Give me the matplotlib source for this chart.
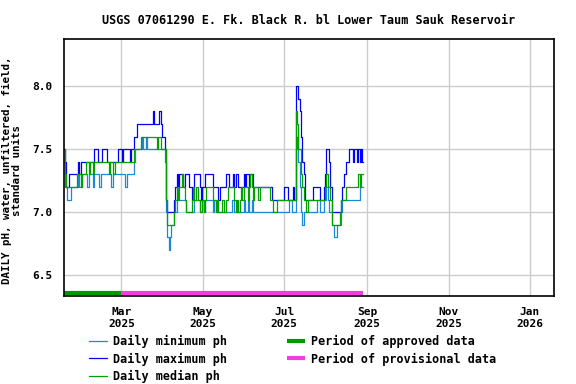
import numpy as np
import pandas as pd
import matplotlib
matplotlib.use('Agg')
import matplotlib.pyplot as plt
import matplotlib.dates as mdates

# daily pH values, starting 2025-01-17
start_date = '2025-01-17'

ph_max = [
    7.5, 7.4, 7.2, 7.2, 7.3, 7.3, 7.3, 7.3, 7.3, 7.3,
    7.3, 7.4, 7.3, 7.4, 7.4, 7.4, 7.4, 7.4, 7.4, 7.4,
    7.4, 7.4, 7.4, 7.5, 7.5, 7.5, 7.4, 7.4, 7.4, 7.5,
    7.5, 7.5, 7.5, 7.4, 7.4, 7.4, 7.4, 7.4, 7.4, 7.4,
    7.4, 7.5, 7.5, 7.5, 7.4, 7.5, 7.5, 7.5, 7.5, 7.5,
    7.4, 7.5, 7.5, 7.6, 7.6, 7.7, 7.7, 7.7, 7.7, 7.7,
    7.7, 7.7, 7.7, 7.7, 7.7, 7.7, 7.7, 7.8, 7.7, 7.7,
    7.7, 7.7, 7.8, 7.7, 7.6, 7.6, 7.5, 7.1, 7.0, 7.0,
    7.0, 7.0, 7.0, 7.1, 7.2, 7.3, 7.2, 7.3, 7.3, 7.3,
    7.2, 7.3, 7.3, 7.3, 7.2, 7.2, 7.1, 7.2, 7.3, 7.3,
    7.3, 7.3, 7.2, 7.1, 7.2, 7.2, 7.3, 7.3, 7.3, 7.3,
    7.3, 7.3, 7.2, 7.2, 7.2, 7.2, 7.1, 7.2, 7.2, 7.2,
    7.2, 7.2, 7.3, 7.3, 7.2, 7.2, 7.2, 7.3, 7.2, 7.3,
    7.3, 7.2, 7.2, 7.2, 7.2, 7.3, 7.2, 7.3, 7.3, 7.2,
    7.3, 7.3, 7.2, 7.2, 7.2, 7.2, 7.2, 7.2, 7.2, 7.2,
    7.2, 7.2, 7.2, 7.2, 7.2, 7.2, 7.1, 7.1, 7.1, 7.1,
    7.1, 7.1, 7.1, 7.1, 7.1, 7.2, 7.2, 7.2, 7.1, 7.1,
    7.1, 7.1, 7.2, 7.1, 8.0, 8.0, 7.9, 7.8, 7.6, 7.4,
    7.3, 7.1, 7.1, 7.1, 7.1, 7.1, 7.1, 7.2, 7.2, 7.2,
    7.2, 7.2, 7.1, 7.1, 7.1, 7.2, 7.3, 7.5, 7.5, 7.4,
    7.2, 7.0, 7.0, 7.0, 7.0, 7.0, 7.0, 7.0, 7.1, 7.2,
    7.3, 7.3, 7.4, 7.4, 7.5, 7.5, 7.5, 7.4, 7.5, 7.5,
    7.4, 7.5, 7.4, 7.5, 7.4,
]

ph_median = [
    7.5, 7.3, 7.2, 7.2, 7.2, 7.2, 7.2, 7.2, 7.2, 7.2,
    7.3, 7.3, 7.3, 7.2, 7.3, 7.3, 7.3, 7.4, 7.4, 7.3,
    7.4, 7.4, 7.3, 7.4, 7.4, 7.4, 7.4, 7.4, 7.4, 7.4,
    7.4, 7.4, 7.4, 7.4, 7.3, 7.4, 7.4, 7.3, 7.3, 7.4,
    7.4, 7.4, 7.4, 7.4, 7.4, 7.4, 7.4, 7.4, 7.4, 7.4,
    7.4, 7.4, 7.4, 7.5, 7.5, 7.5, 7.5, 7.5, 7.6, 7.6,
    7.6, 7.6, 7.6, 7.6, 7.6, 7.6, 7.6, 7.6, 7.6, 7.6,
    7.5, 7.6, 7.6, 7.5, 7.5, 7.5, 7.5, 7.1, 6.9, 6.9,
    6.9, 6.9, 6.9, 7.0, 7.1, 7.2, 7.1, 7.2, 7.2, 7.3,
    7.2, 7.1, 7.0, 7.0, 7.0, 7.0, 7.1, 7.2, 7.1, 7.2,
    7.2, 7.1, 7.0, 7.0, 7.1, 7.0, 7.1, 7.2, 7.2, 7.2,
    7.2, 7.2, 7.1, 7.1, 7.0, 7.1, 7.0, 7.0, 7.0, 7.1,
    7.0, 7.0, 7.1, 7.2, 7.2, 7.2, 7.2, 7.2, 7.1, 7.0,
    7.1, 7.0, 7.1, 7.2, 7.1, 7.2, 7.2, 7.2, 7.1, 7.2,
    7.3, 7.2, 7.1, 7.2, 7.2, 7.2, 7.1, 7.2, 7.2, 7.2,
    7.2, 7.2, 7.2, 7.2, 7.2, 7.1, 7.1, 7.0, 7.0, 7.0,
    7.1, 7.1, 7.1, 7.1, 7.1, 7.1, 7.1, 7.1, 7.1, 7.1,
    7.1, 7.1, 7.1, 7.1, 7.8, 7.7, 7.5, 7.5, 7.3, 7.2,
    7.1, 7.1, 7.0, 7.1, 7.1, 7.1, 7.1, 7.1, 7.1, 7.1,
    7.1, 7.1, 7.1, 7.1, 7.1, 7.1, 7.2, 7.3, 7.2, 7.2,
    7.1, 6.9, 6.9, 6.9, 6.9, 6.9, 6.9, 7.0, 7.1, 7.1,
    7.1, 7.1, 7.2, 7.2, 7.2, 7.2, 7.2, 7.2, 7.2, 7.2,
    7.2, 7.3, 7.2, 7.3, 7.3,
]

ph_min = [
    7.4, 7.2, 7.2, 7.1, 7.1, 7.1, 7.2, 7.2, 7.2, 7.2,
    7.2, 7.3, 7.2, 7.2, 7.3, 7.3, 7.3, 7.3, 7.2, 7.3,
    7.3, 7.3, 7.2, 7.3, 7.3, 7.3, 7.3, 7.2, 7.3, 7.3,
    7.3, 7.3, 7.3, 7.3, 7.3, 7.3, 7.2, 7.3, 7.3, 7.3,
    7.3, 7.3, 7.3, 7.3, 7.3, 7.3, 7.2, 7.2, 7.3, 7.3,
    7.3, 7.3, 7.3, 7.4, 7.5, 7.5, 7.5, 7.5, 7.5, 7.6,
    7.5, 7.5, 7.6, 7.5, 7.5, 7.5, 7.5, 7.5, 7.5, 7.5,
    7.5, 7.5, 7.5, 7.5, 7.5, 7.5, 7.4, 7.0, 6.8, 6.7,
    6.8, 6.9, 6.9, 7.0, 7.0, 7.1, 7.1, 7.1, 7.1, 7.1,
    7.1, 7.1, 7.0, 7.0, 7.0, 7.0, 7.0, 7.0, 7.1, 7.1,
    7.1, 7.1, 7.0, 7.0, 7.1, 7.0, 7.1, 7.1, 7.1, 7.1,
    7.1, 7.1, 7.0, 7.1, 7.0, 7.0, 7.0, 7.0, 7.0, 7.0,
    7.0, 7.0, 7.0, 7.0, 7.0, 7.0, 7.1, 7.1, 7.0, 7.0,
    7.0, 7.0, 7.0, 7.0, 7.0, 7.1, 7.0, 7.0, 7.1, 7.0,
    7.0, 7.1, 7.0, 7.0, 7.0, 7.0, 7.0, 7.0, 7.0, 7.0,
    7.0, 7.0, 7.0, 7.0, 7.0, 7.0, 7.0, 7.0, 7.0, 7.0,
    7.0, 7.0, 7.0, 7.0, 7.0, 7.0, 7.0, 7.0, 7.0, 7.1,
    7.1, 7.0, 7.0, 7.0, 7.5, 7.6, 7.4, 7.2, 7.0, 6.9,
    7.0, 7.0, 7.0, 7.0, 7.0, 7.0, 7.0, 7.0, 7.0, 7.0,
    7.1, 7.1, 7.0, 7.0, 7.0, 7.1, 7.1, 7.2, 7.1, 7.0,
    7.0, 6.9, 6.9, 6.8, 6.8, 6.9, 6.9, 6.9, 7.0, 7.1,
    7.1, 7.1, 7.1, 7.1, 7.1, 7.1, 7.1, 7.1, 7.1, 7.1,
    7.1, 7.1, 7.2, 7.2, 7.2,
]

approved_period = ('2025-01-17', '2025-03-01')
provisional_period = ('2025-03-01', '2025-08-29')

title = 'USGS 07061290 E. Fk. Black R. bl Lower Taum Sauk Reservoir'
ylabel = 'DAILY pH, water, unfiltered, field,\nstandard units'

dates = pd.date_range(start_date, periods=len(ph_max), freq='D')

plt.rcParams['font.family'] = ['DejaVu Sans Mono']
plt.rcParams['font.weight'] = 'bold'
plt.rcParams['font.size'] = 8

fig = plt.figure(figsize=(5.76, 3.84), dpi=100)
ax = fig.add_axes([0.1111, 0.229, 0.8507, 0.6687])

ax.plot(dates, ph_min, color='#1a8ad4', lw=0.9, drawstyle='steps-mid', label='Daily minimum ph')
ax.plot(dates, ph_max, color='#0000ff', lw=0.9, drawstyle='steps-mid', label='Daily maximum ph')
ax.plot(dates, ph_median, color='#00a000', lw=0.9, drawstyle='steps-mid', label='Daily median ph')

ax.plot(pd.to_datetime(list(approved_period)), [6.357, 6.357], color='#009900', lw=3,
        solid_capstyle='butt', label='Period of approved data')
ax.plot(pd.to_datetime(list(provisional_period)), [6.357, 6.357], color='#f040dc', lw=3,
        solid_capstyle='butt', label='Period of provisional data')

ax.set_xlim(pd.Timestamp('2025-01-17'), pd.Timestamp('2026-01-19'))
ax.set_ylim(6.333, 8.373)
ax.set_yticks([6.5, 7.0, 7.5, 8.0])
ax.xaxis.set_major_locator(mdates.MonthLocator(bymonth=[1, 3, 5, 7, 9, 11]))
ax.xaxis.set_major_formatter(mdates.DateFormatter('%b\n%Y'))
ax.grid(True, color='#cccccc', lw=1)
ax.set_axisbelow(True)
ax.tick_params(length=0, pad=8)
for sp in ax.spines.values():
    sp.set_linewidth(1.2)

ax.set_title(title, fontsize=8.5, fontweight='bold', pad=11)
ax.set_ylabel(ylabel, fontsize=7.8, fontweight='bold', linespacing=1.05)
ax.yaxis.set_label_coords(-0.085, 0.49)

fig.legend(loc='upper left', bbox_to_anchor=(0.155, 0.128), ncol=2, frameon=False,
           fontsize=8.5, handlelength=1.5, handletextpad=0.5, columnspacing=5.1,
           labelspacing=0.38, borderaxespad=0, borderpad=0)

fig.savefig('out.png', dpi=100)
